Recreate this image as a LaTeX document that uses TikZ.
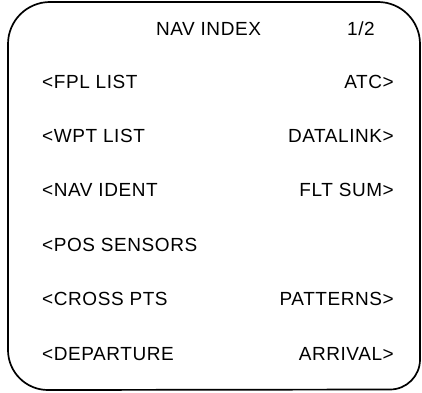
\documentclass[tikz,border=0pt]{standalone}
\usepackage{fontspec}
\setmainfont{Liberation Sans}[LetterSpace=3]
\begin{document}
\begin{tikzpicture}[x=1pt,y=1pt,
  lbl/.style={inner sep=0pt,font=\fontsize{19}{22}\selectfont},
  leftlbl/.style={lbl,anchor=base west},
  rightlbl/.style={lbl,anchor=base east},
  frame/.style={draw=black,line width=1.7pt}]
\useasboundingbox (0,0) rectangle (422,392);
\draw[frame] (8,350) -- (8,42) arc[start angle=180,end angle=270,radius=40]
  -- (390,2.5) arc[start angle=270,end angle=360,radius=30]
  -- (420,348) arc[start angle=0,end angle=90,radius=42]
  -- (50,390) arc[start angle=90,end angle=180,radius=42] -- cycle;
\node[lbl,anchor=base] (title) at (208.5,357) {NAV INDEX};
\node[lbl,anchor=base] (page) at (361,357) {1/2};
\node[leftlbl] (l1) at (42,304) {<FPL LIST};
\node[leftlbl] (l2) at (42,249.6) {<WPT LIST};
\node[leftlbl] (l3) at (42,195.2) {<NAV IDENT};
\node[leftlbl] (l4) at (42,140.8) {<POS SENSORS};
\node[leftlbl] (l5) at (42,86.4) {<CROSS PTS};
\node[leftlbl] (l6) at (42,32) {<DEPARTURE};
\node[rightlbl] (r1) at (394,304) {ATC>};
\node[rightlbl] (r2) at (394,249.6) {DATALINK>};
\node[rightlbl] (r3) at (394,195.2) {FLT SUM>};
\node[rightlbl] (r5) at (394,86.4) {PATTERNS>};
\node[rightlbl] (r6) at (394,32) {ARRIVAL>};
\end{tikzpicture}
\end{document}
